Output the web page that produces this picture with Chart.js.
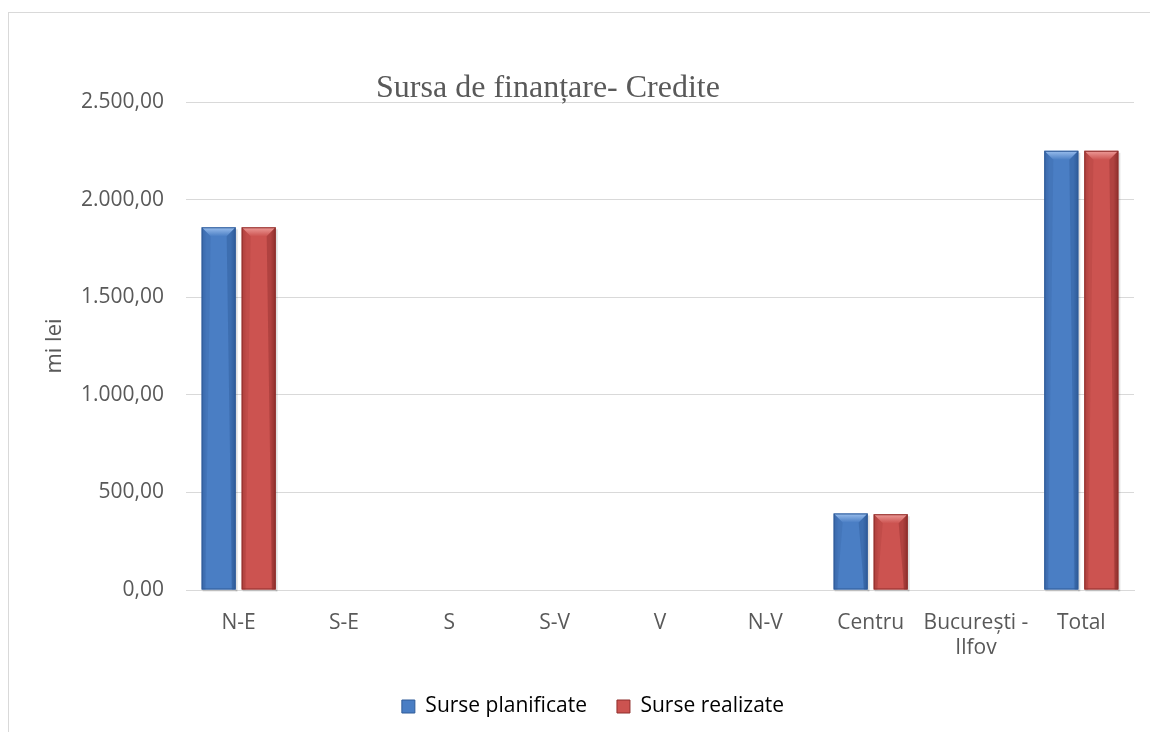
<!DOCTYPE html>
<html>
<head>
<meta charset="utf-8">
<script src="https://cdn.jsdelivr.net/npm/chart.js@4"></script>
<style>
  html, body { margin: 0; padding: 0; background: #fff; }
  #wrap { position: relative; width: 1150px; height: 732px; }
  #frame { position: absolute; left: 8px; top: 12px; width: 1150px; height: 740px; border: 1px solid #d9d9d9; box-sizing: border-box; }
  canvas { position: absolute; left: 0; top: 0; }
</style>
</head>
<body>
<div id="wrap">
  <div id="frame"></div>
  <canvas id="chart" width="1150" height="732"></canvas>
</div>
<script>
const categories = ['N-E', 'S-E', 'S', 'S-V', 'V', 'N-V', 'Centru', ['București -', 'Ilfov'], 'Total'];
const planificate = [1858, 0, 0, 0, 0, 0, 392, 0, 2250];
const realizate = [1858, 0, 0, 0, 0, 0, 388, 0, 2250];
const yTicks = [0, 500, 1000, 1500, 2000, 2500];

const fmt = v => {
    const s = v.toFixed(2).split('.');
    return s[0].replace(/\B(?=(\d{3})+(?!\d))/g, '.') + ',' + s[1];
};

const palette = [
    { base: '#4a7ec4', light: '#9cc0ee', dark: '#2f5b98', edge: '#3a68aa' },
    { base: '#cc5350', light: '#ee9d9a', dark: '#8f2f2c', edge: '#ad403d' }
];

// bevel look drawn over each bar element
const bevel = {
    id: 'bevel',
    afterDatasetsDraw(chart) {
        const ctx = chart.ctx;
        chart.data.datasets.forEach((ds, i) => {
            const p = palette[i];
            chart.getDatasetMeta(i).data.forEach(bar => {
                const h = bar.base - bar.y;
                if (h < 1) return;
                const l = bar.x - bar.width / 2, r = bar.x + bar.width / 2;
                const t = bar.y, b = bar.base;
                const d = Math.min(9, h / 2);
                ctx.save();
                // soft shadow
                ctx.fillStyle = 'rgba(0,0,0,0.12)';
                ctx.fillRect(r, t + 2, 2, h);
                ctx.fillRect(l + 1, b, bar.width, 2);
                // body gradient
                const g = ctx.createLinearGradient(l, 0, r, 0);
                g.addColorStop(0, p.edge);
                g.addColorStop(0.15, p.base);
                g.addColorStop(0.85, p.base);
                g.addColorStop(1, p.dark);
                ctx.fillStyle = g;
                ctx.fillRect(l, t, bar.width, h);
                // top bevel
                const tg = ctx.createLinearGradient(0, t, 0, t + d);
                tg.addColorStop(0, p.light);
                tg.addColorStop(1, p.base);
                ctx.fillStyle = tg;
                ctx.beginPath();
                ctx.moveTo(l, t); ctx.lineTo(r, t);
                ctx.lineTo(r - d, t + d); ctx.lineTo(l + d, t + d);
                ctx.closePath(); ctx.fill();
                // side bevels
                ctx.fillStyle = p.edge;
                ctx.beginPath();
                ctx.moveTo(l, t); ctx.lineTo(l + d, t + d);
                ctx.lineTo(l + d * 0.4, b); ctx.lineTo(l, b);
                ctx.closePath(); ctx.globalAlpha = 0.35; ctx.fill();
                ctx.fillStyle = p.dark;
                ctx.beginPath();
                ctx.moveTo(r, t); ctx.lineTo(r - d, t + d);
                ctx.lineTo(r - d * 0.4, b); ctx.lineTo(r, b);
                ctx.closePath(); ctx.globalAlpha = 0.45; ctx.fill();
                ctx.globalAlpha = 1;
                ctx.strokeStyle = p.dark;
                ctx.lineWidth = 1;
                ctx.strokeRect(l + 0.5, t + 0.5, bar.width - 1, h - 1);
                ctx.restore();
            });
        });
    }
};

// title sits inside the plot like the original
const overTitle = {
    id: 'overTitle',
    afterLayout(chart) {
        // excel centres the legend a bit right of the canvas middle
        chart.legend.left += 22;
        chart.legend.right += 22;
    },
    afterDraw(chart) {
        const ctx = chart.ctx;
        ctx.save();
        ctx.font = '32px "Liberation Serif", "Times New Roman", serif';
        ctx.fillStyle = '#595959';
        ctx.textAlign = 'center';
        ctx.textBaseline = 'alphabetic';
        ctx.fillText('Sursa de finanțare- Credite', 548, 97);
        ctx.restore();
    }
};

const tickFont = { family: '"Open Sans", "Noto Sans", sans-serif', size: 21 };

new Chart(document.getElementById('chart').getContext('2d'), {
    type: 'bar',
    data: {
        labels: categories,
        datasets: [
            { label: 'Surse planificate', data: planificate, backgroundColor: 'rgba(0,0,0,0)' },
            { label: 'Surse realizate', data: realizate, backgroundColor: 'rgba(0,0,0,0)' }
        ]
    },
    options: {
        responsive: false,
        animation: false,
        categoryPercentage: 0.76,
        barPercentage: 0.85,
        layout: { padding: { top: 102, right: 16, left: 8, bottom: 5 } },
        plugins: {
            title: { display: false },
            tooltip: { enabled: false },
            legend: {
                position: 'bottom',
                labels: {
                    font: tickFont,
                    color: '#595959',
                    boxWidth: 13,
                    boxHeight: 13,
                    padding: 30,
                    generateLabels: () => palette.map((p, i) => ({
                        text: i === 0 ? 'Surse planificate' : 'Surse realizate',
                        fillStyle: p.base,
                        strokeStyle: p.dark,
                        lineWidth: 1,
                        datasetIndex: i
                    }))
                }
            }
        },
        scales: {
            x: {
                grid: { display: false },
                border: { color: '#d9d9d9', width: 1 },
                ticks: { font: tickFont, color: '#595959', maxRotation: 0, autoSkip: false, padding: 12 },
                afterFit: s => { s.height = 76; }
            },
            y: {
                min: 0,
                max: 2500,
                afterBuildTicks: s => { s.ticks = yTicks.map(v => ({ value: v })); },
                grid: { color: '#d9d9d9', drawTicks: false },
                border: { display: false },
                ticks: { font: tickFont, color: '#595959', padding: 22, callback: v => fmt(v) },
                title: { display: true, text: 'mi lei', font: { family: tickFont.family, size: 22 }, color: '#595959', padding: { top: 34, bottom: 0 } },
                afterFit: s => { s.width = 178; }
            }
        }
    },
    plugins: [bevel, overTitle]
});
</script>
</body>
</html>
